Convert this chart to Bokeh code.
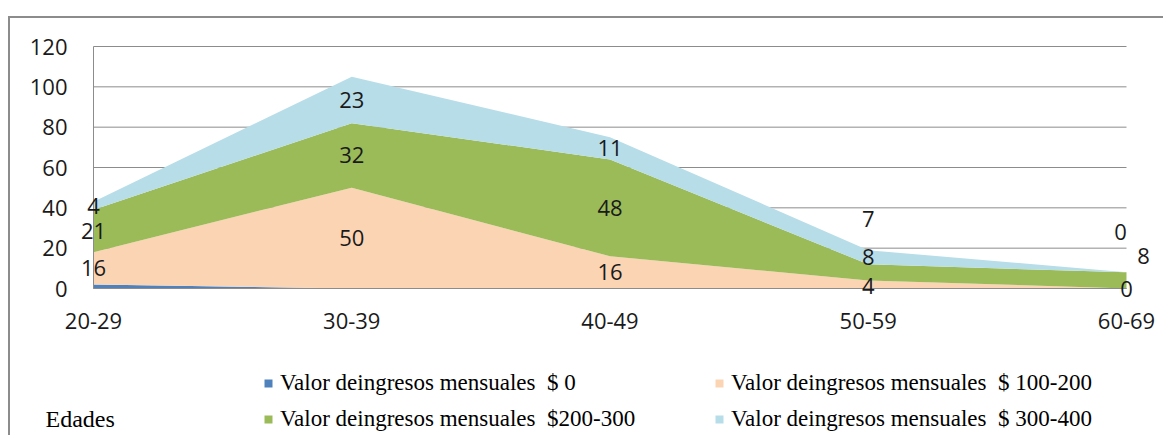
import numpy as np
from bokeh.plotting import figure
from bokeh.models import (ColumnDataSource, Range1d, FixedTicker, Legend,
                          LegendItem, Label, LabelSet)
from bokeh.core.properties import value
from bokeh.embed import file_html
from bokeh.resources import INLINE

# ---------------- data ----------------
categories = ["20-29", "30-39", "40-49", "50-59", "60-69"]
series_names = [
    "Valor deingresos mensuales  $ 0",
    "Valor deingresos mensuales  $ 100-200",
    "Valor deingresos mensuales  $200-300",
    "Valor deingresos mensuales  $ 300-400",
]
ingreso_0 = [2, 0, 0, 0, 0]
ingreso_100_200 = [16, 50, 16, 4, 0]
ingreso_200_300 = [21, 32, 48, 8, 8]
ingreso_300_400 = [4, 23, 11, 7, 0]
y_ticks = [0, 20, 40, 60, 80, 100, 120]
x_title = "Edades"

# ---------------- layout / style ----------------
W, H = 1155, 419
colors = ["#4F81BD", "#FBD4B4", "#9BBB59", "#B7DDE8"]
grid_col = "#8c8c8c"
# pixel positions of the plot area inside the canvas
first_cat_px, last_cat_px = 83, 1116      # x of first / last category
y_top_px, y_zero_px = 28, 270             # y of 120 and of 0 (from canvas top)
# manual label nudges (pixels, +y up) for labels moved in the original
label_dx = {1: [0, 0, 0, 0, 0], 2: [0, 0, 0, 0, 17], 3: [0, 0, 0, 0, -6]}
label_dy = {1: [0, 0, 0, -2, 0], 2: [0, 0, 0, 15, 24], 3: [0, 0, 0, 38, 40]}

n = len(categories)
sx = (last_cat_px - first_cat_px) / (n - 1)
x_start = -first_cat_px / sx
x_end = x_start + W / sx
sy = (y_zero_px - y_top_px) / y_ticks[-1]
y_end = y_ticks[-1] + y_top_px / sy
y_start = y_end - H / sy

xs = list(range(n))
src = ColumnDataSource(dict(x=xs, s0=ingreso_0, s1=ingreso_100_200,
                            s2=ingreso_200_300, s3=ingreso_300_400))

p = figure(width=W, height=H,
           x_range=Range1d(x_start, x_end), y_range=Range1d(y_start, y_end),
           output_backend="svg", toolbar_location=None,
           min_border_left=0, min_border_right=0,
           min_border_top=0, min_border_bottom=0)
p.margin = (16, 0, 0, 8)
p.styles = {"border-top": "2px solid #8c8c8c", "border-left": "2px solid #8c8c8c"}
p.outline_line_color = None
p.background_fill_color = "white"
p.border_fill_color = "white"
p.xgrid.visible = False
p.ygrid.visible = False

# gridlines (drawn across the category span only)
p.segment(x0=[xs[0]] * len(y_ticks), x1=[xs[-1]] * len(y_ticks),
          y0=y_ticks, y1=y_ticks, line_color=grid_col, line_width=1)

rs = p.varea_stack(stackers=["s0", "s1", "s2", "s3"], x="x",
                   color=colors, source=src)

# axis lines
p.segment(x0=[xs[0]], x1=[xs[0]], y0=[y_ticks[0]], y1=[y_ticks[-1]],
          line_color=grid_col, line_width=1)
p.segment(x0=[xs[0]], x1=[xs[-1]], y0=[0], y1=[0],
          line_color=grid_col, line_width=1)

# data labels (centered in each band)
vals = np.array([ingreso_0, ingreso_100_200, ingreso_200_300, ingreso_300_400], dtype=float)
tops = vals.cumsum(axis=0)
mids = tops - vals / 2.0
lx, ly, lt, ldx, ldy = [], [], [], [], []
for k in (1, 2, 3):
    for i in xs:
        lx.append(xs[i])
        ly.append(mids[k, i])
        lt.append(str(int(vals[k, i])))
        ldx.append(label_dx[k][i])
        ldy.append(label_dy[k][i])
lsrc = ColumnDataSource(dict(x=lx, y=ly, t=lt, dx=ldx, dy=ldy))
labels = LabelSet(x="x", y="y", text="t", x_offset="dx", y_offset="dy",
                  source=lsrc, text_align="center", text_baseline="middle",
                  text_font=value("Open Sans"), text_font_size=value("22px"),
                  text_color=value("#1a1a1a"))
p.add_layout(labels)

# axes (fixed at the data origin)
p.yaxis.fixed_location = 0
p.yaxis.ticker = FixedTicker(ticks=y_ticks)
p.yaxis.major_label_text_font = "Open Sans"
p.yaxis.major_label_text_font_size = "22px"
p.yaxis.major_label_text_color = "#1a1a1a"
p.yaxis.major_tick_line_color = None
p.yaxis.minor_tick_line_color = None
p.yaxis.axis_line_color = None
p.yaxis.major_label_standoff = 20

p.xaxis.fixed_location = 0
p.xaxis.ticker = FixedTicker(ticks=xs)
p.xaxis.major_label_overrides = {i: c for i, c in enumerate(categories)}
p.xaxis.major_label_text_font = "Open Sans"
p.xaxis.major_label_text_font_size = "22px"
p.xaxis.major_label_text_color = "#1a1a1a"
p.xaxis.major_tick_line_color = None
p.xaxis.minor_tick_line_color = None
p.xaxis.axis_line_color = None
p.xaxis.major_label_standoff = 18

# legends (two columns)
def make_legend(idx, loc):
    return Legend(items=[LegendItem(label=series_names[j], renderers=[rs[j]]) for j in idx],
                  location=loc, orientation="vertical",
                  label_text_font="Liberation Serif", label_text_font_size="23px",
                  label_text_color="#000000",
                  glyph_width=10, glyph_height=10, label_height=30, label_standoff=7,
                  spacing=6, padding=0, margin=0,
                  border_line_color=None, background_fill_alpha=0)

p.add_layout(make_legend([0, 2], (253, 3)))
p.add_layout(make_legend([1, 3], (704, 3)))

p.add_layout(Label(x=35, y=19, x_units="screen", y_units="screen",
                   text=x_title, text_baseline="middle",
                   text_font="Liberation Serif", text_font_size="24px",
                   text_color="#000000"))

open("out.html", "w").write(file_html(p, INLINE))
